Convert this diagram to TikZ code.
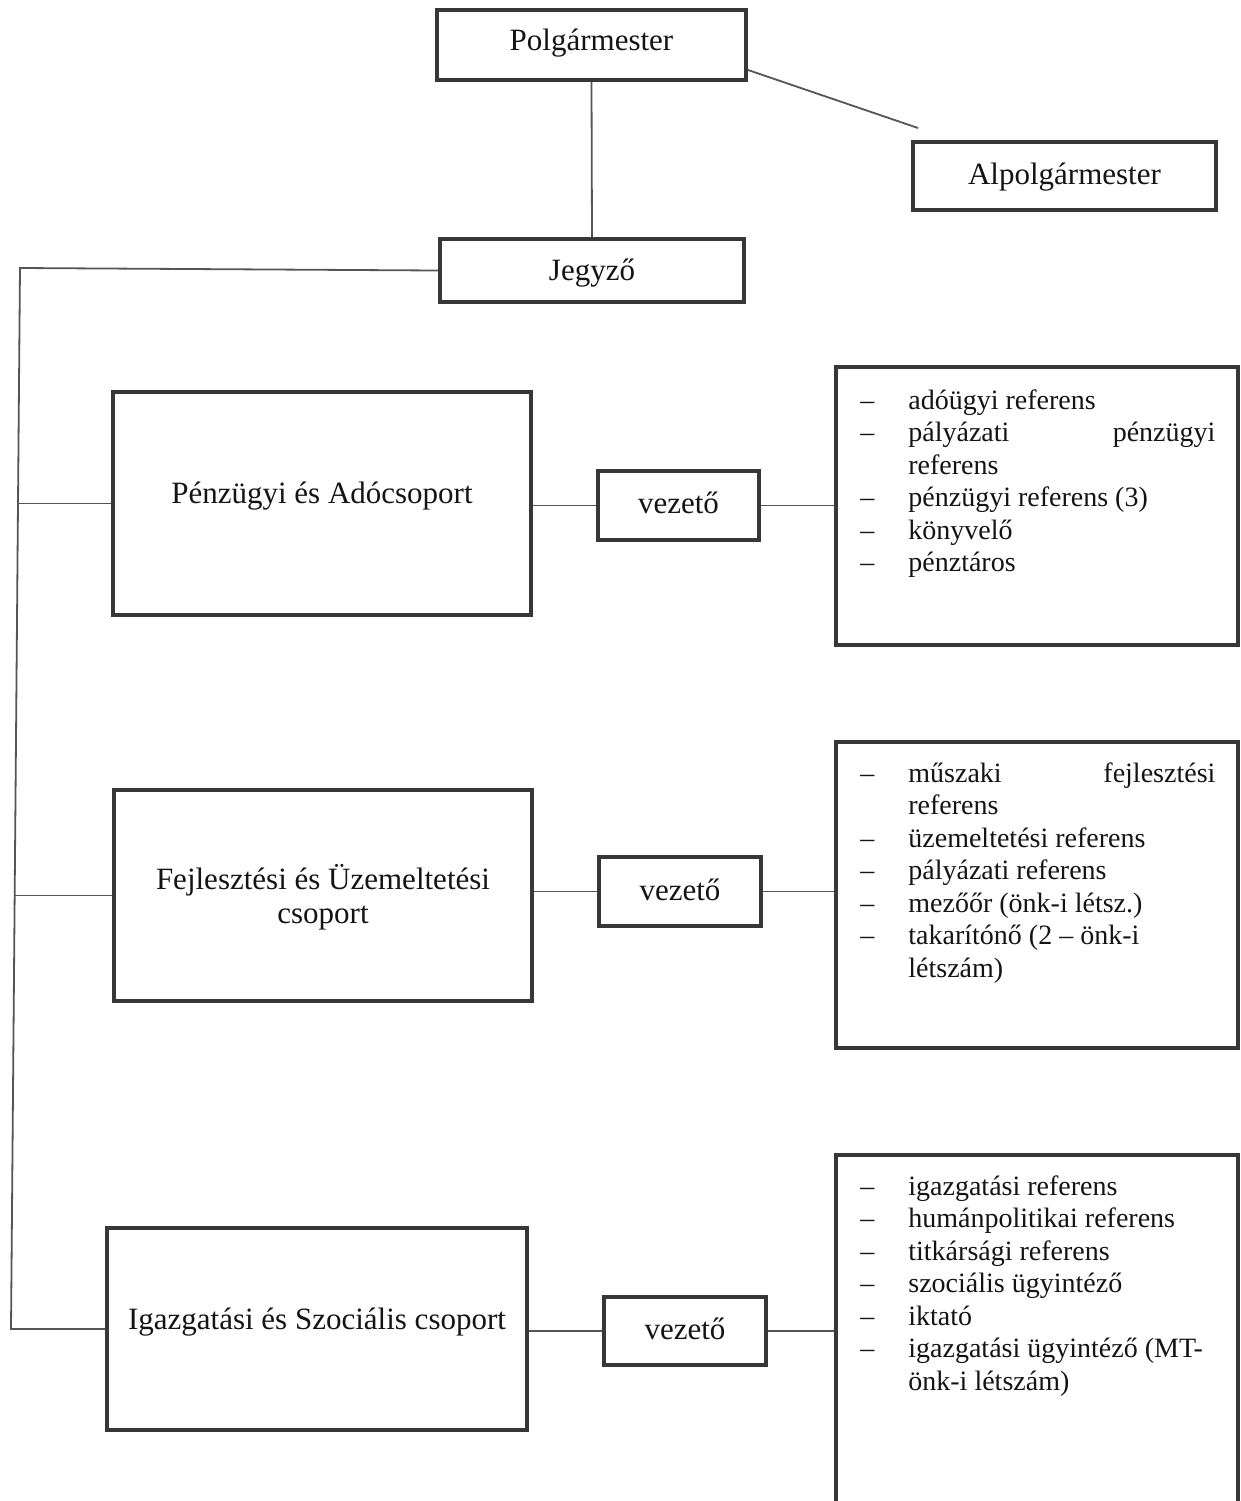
\documentclass[tikz,border=0pt]{standalone}
\usepackage{fontspec}
\setmainfont{Liberation Serif}
\definecolor{boxcol}{RGB}{55,55,55}
\definecolor{lncol}{RGB}{85,85,85}
\definecolor{txtcol}{RGB}{20,20,20}
\newcommand\titlefont{\fontsize{15.5pt}{17pt}\selectfont}
\newcommand\listfont{\fontsize{14pt}{16.25pt}\selectfont}
\newcommand\lsitem{\makebox[24pt][l]{–}}
\newcommand\lscont{\hspace*{24pt}}
\begin{document}
\begin{tikzpicture}[x=0.5pt,y=-0.5pt,
  box/.style={draw=boxcol,line width=2pt,inner sep=0pt,fill=white},
  lbl/.style={text=txtcol,font=\titlefont,inner sep=0pt,align=center},
  conn/.style={draw=lncol,line width=0.9pt},
  listtxt/.style={text=txtcol,font=\listfont,inner sep=0pt,anchor=base west}]
\useasboundingbox (0,0) rectangle (1241,1501);
% top level
\node[box,minimum width=154.5pt,minimum height=35pt,
  label={[lbl,yshift=0.5pt]center:\strut Polgármester}] (P) at (591.5,45) {};
\node[box,minimum width=151.5pt,minimum height=34pt,
  label={[lbl,yshift=-1pt]center:\strut Alpolgármester}] (A) at (1064.5,176) {};
\node[box,minimum width=152pt,minimum height=31.5pt,
  label={[lbl,yshift=-1.75pt]center:\strut Jegyző}] (J) at (592,270.5) {};
% groups
\node[box,minimum width=209pt,minimum height=111.5pt,
  label={[lbl,yshift=3.25pt]center:\strut Pénzügyi és Adócsoport}] (G1) at (322,503.5) {};
\node[box,minimum width=209pt,minimum height=105.5pt,
  label={[lbl,yshift=-1pt]center:Fejlesztési és Üzemeltetési\\csoport}] (G2) at (323,895.5) {};
\node[box,minimum width=210pt,minimum height=101pt,
  label={[lbl,yshift=3.25pt]center:\strut Igazgatási és Szociális csoport}] (G3) at (317,1329) {};
% leaders
\node[box,minimum width=80.5pt,minimum height=34.5pt,
  label={[lbl,yshift=-0.75pt]center:\strut vezető}] (V1) at (678.5,505.5) {};
\node[box,minimum width=81pt,minimum height=34.5pt,
  label={[lbl,yshift=-1.25pt]center:\strut vezető}] (V2) at (680,891.5) {};
\node[box,minimum width=81pt,minimum height=34pt,
  label={[lbl,yshift=-1pt]center:\strut vezető}] (V3) at (685,1331) {};
% staff lists
\node[box,minimum width=201pt,minimum height=139pt] (L1) at (1037,506) {};
\node[box,minimum width=201pt,minimum height=153pt] (L2) at (1037,895) {};
\node[box,minimum width=201pt,minimum height=190pt] (L3) at (1037,1345) {};
\node[listtxt] (L1t) at (860,409) {\parbox[t]{177.5pt}{%
\lsitem adóügyi referens\\
\lsitem pályázati\hfill pénzügyi\\
\lscont referens\\
\lsitem pénzügyi referens (3)\\
\lsitem könyvelő\\
\lsitem pénztáros}};
\node[listtxt] (L2t) at (860,782) {\parbox[t]{177.5pt}{%
\lsitem műszaki\hfill fejlesztési\\
\lscont referens\\
\lsitem üzemeltetési referens\\
\lsitem pályázati referens\\
\lsitem mezőőr (önk-i létsz.)\\
\lsitem takarítónő (2 – önk-i\\
\lscont létszám)}};
\node[listtxt] (L3t) at (860,1195) {\parbox[t]{177.5pt}{%
\lsitem igazgatási referens\\
\lsitem humánpolitikai referens\\
\lsitem titkársági referens\\
\lsitem szociális ügyintéző\\
\lsitem iktató\\
\lsitem igazgatási ügyintéző (MT-\\
\lscont önk-i létszám)}};
% connectors
\coordinate (aend) at (918,128);
\draw[conn] ([yshift=-12.5pt]P.east) -- (aend);
\draw[conn] (P.south) -- (J.north);
\coordinate (trunkTop) at (20,268);
\coordinate (trunkBot) at (11,1329);
\coordinate (b1) at (18,503.5);
\coordinate (b2) at (15,895.5);
\draw[conn] (J.west) -- (trunkTop) -- (trunkBot) -- (G3.west);
\draw[conn] (b1) -- (G1.west);
\draw[conn] (b2) -- (G2.west);
\draw[conn] (G1.east |- V1.west) -- (V1.west);
\draw[conn] (V1.east) -- (V1.east -| L1.west);
\draw[conn] (G2.east |- V2.west) -- (V2.west);
\draw[conn] (V2.east) -- (V2.east -| L2.west);
\draw[conn] (G3.east |- V3.west) -- (V3.west);
\draw[conn] (V3.east) -- (V3.east -| L3.west);
\end{tikzpicture}
\end{document}
